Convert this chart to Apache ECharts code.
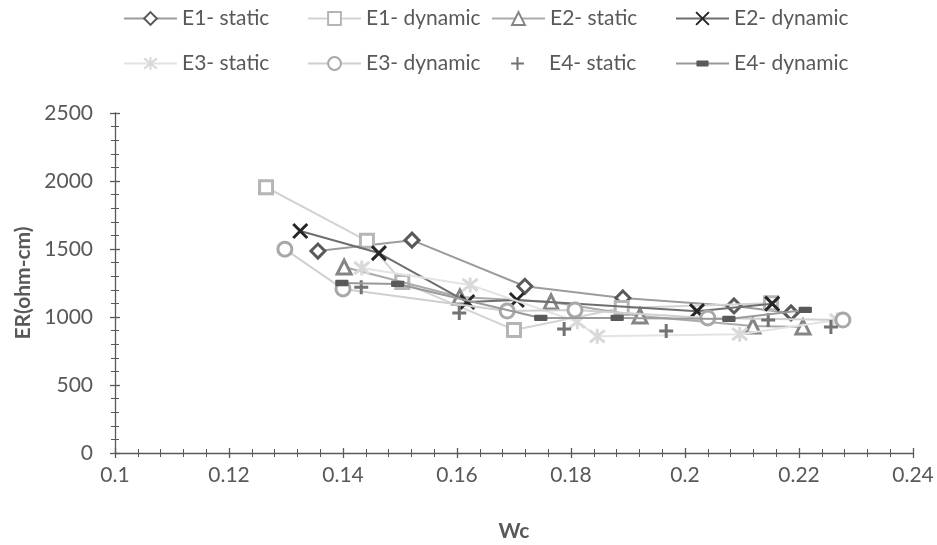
<!DOCTYPE html>
<html>
<head>
<meta charset="utf-8">
<script src="https://cdn.jsdelivr.net/npm/echarts@6/dist/echarts.min.js"></script>
<style>html,body{margin:0;padding:0;background:#fff}#c{width:937px;height:545px}</style>
</head>
<body>
<div id="c"></div>
<script>
// ---- data ----
const seriesNames = ['E1- static','E1- dynamic','E2- static','E2- dynamic','E3- static','E3- dynamic','E4- static','E4- dynamic'];
const e1StaticX  = [0.1356, 0.1521, 0.1719, 0.1891, 0.2086, 0.2186];
const e1StaticY  = [1485, 1565, 1226, 1140, 1081, 1030];
const e1DynamicX = [0.1265, 0.1442, 0.1504, 0.1700, 0.1889, 0.2151];
const e1DynamicY = [1954, 1560, 1257, 905, 1066, 1102];
const e2StaticX  = [0.1402, 0.1605, 0.1765, 0.1921, 0.2119, 0.2207];
const e2StaticY  = [1367, 1147, 1111, 1008, 934, 927];
const e2DynamicX = [0.1325, 0.1463, 0.1618, 0.1705, 0.2021, 0.2153];
const e2DynamicY = [1632, 1470, 1110, 1125, 1043, 1098];
const e3StaticX  = [0.1433, 0.1623, 0.1811, 0.1846, 0.2096, 0.2267];
const e3StaticY  = [1360, 1236, 965, 858, 874, 978];
const e3DynamicX = [0.1298, 0.1400, 0.1688, 0.1807, 0.2040, 0.2277];
const e3DynamicY = [1499, 1206, 1044, 1052, 993, 978];
const e4StaticX  = [0.1432, 0.1604, 0.1788, 0.1967, 0.2146, 0.2256];
const e4StaticY  = [1218, 1030, 912, 897, 978, 927];
const e4DynamicX = [0.1398, 0.1496, 0.1747, 0.1881, 0.2077, 0.2211];
const e4DynamicY = [1250, 1243, 993, 993, 986, 1052];
const xMin = 0.1, xMax = 0.24, xStep = 0.02;
const yMin = 0, yMax = 2500, yStep = 500;

// ---- styles ----
const FONT = 'Lato';
const TXT = '#595959';
const AX = '#595959';
const pathX = 'path://M0,0L10,10M10,0L0,10';
const pathPlus = 'path://M5,0L5,10M0,5L10,5';
const pathStar = 'path://M0,1L10,9M10,1L0,9M5,0L5,10';
const pathDash = 'path://M0,0L0,0M20,20L20,20M2,5.5L18,5.5Q19.5,5.5 19.5,7L19.5,13Q19.5,14.5 18,14.5L2,14.5Q0.5,14.5 0.5,13L0.5,7Q0.5,5.5 2,5.5Z';

const styles = [
  {symbol:'diamond', size:14, item:{color:'#fff', borderColor:'#595959', borderWidth:3}, line:{color:'#9c9c9c', width:2}},
  {symbol:'rect', size:13, item:{color:'#fff', borderColor:'#b5b5b5', borderWidth:3}, line:{color:'#d3d3d3', width:2}},
  {symbol:'triangle', size:14, item:{color:'#fff', borderColor:'#858585', borderWidth:3}, line:{color:'#ababab', width:2}},
  {symbol:pathX, size:14, item:{color:'none', borderColor:'#262626', borderWidth:3}, line:{color:'#6e6e6e', width:2}},
  {symbol:pathStar, size:15, item:{color:'none', borderColor:'#d9d9d9', borderWidth:3}, line:{color:'#e3e3e3', width:2}},
  {symbol:'circle', size:14, item:{color:'#fff', borderColor:'#a8a8a8', borderWidth:3}, line:{color:'#cfcfcf', width:2}},
  {symbol:pathPlus, size:14, item:{color:'none', borderColor:'#737373', borderWidth:3}, line:{color:'#737373', width:0, opacity:0}},
  {symbol:pathDash, size:14, item:{color:'#595959', borderWidth:0}, line:{color:'#9a9a9a', width:2}}
];
const xs = [e1StaticX,e1DynamicX,e2StaticX,e2DynamicX,e3StaticX,e3DynamicX,e4StaticX,e4DynamicX];
const ys = [e1StaticY,e1DynamicY,e2StaticY,e2DynamicY,e3StaticY,e3DynamicY,e4StaticY,e4DynamicY];

const series = seriesNames.map((n,i)=>({
  name:n, type:'line', xAxisIndex:0, yAxisIndex:0,
  data: xs[i].map((x,k)=>[x, ys[i][k]]),
  symbol: styles[i].symbol, symbolSize: styles[i].size,
  itemStyle: styles[i].item, lineStyle: styles[i].line,
  showSymbol:true, animation:false, z: 2 + i*0.01, silent:true
}));
// empty helper series bound to the tick-only twin axes
series.push({type:'scatter', xAxisIndex:1, yAxisIndex:1, data:[], silent:true});

const colLeft = [123, 307, 491, 675];
const rowTop = [8, 53];
const legends = seriesNames.map((n,i)=>({
  data:[n], left: colLeft[i%4], top: rowTop[Math.floor(i/4)], padding:0,
  itemWidth:53, itemHeight:16,
  textStyle:{color:TXT, fontSize:21, fontFamily:FONT},
  selectedMode:false
}));

const GL = 115, GR = 24, GT = 113, GB = 92;
const gridW = 937 - GL - GR, gridH = 545 - GT - GB;

const fmt = v => String(+v.toFixed(4));
const tickStyle = {color:AX, width:1.3};
const minorStyle = {color:AX, width:1};
const option = {
  backgroundColor:'#fff',
  animation:false,
  grid:{left:GL, right:GR, top:GT, bottom:GB, containLabel:false, outerBoundsMode:'none'},
  legend: legends,
  xAxis:[
    {
      type:'value', min:xMin, max:xMax, interval:xStep, splitLine:{show:false}, position:'bottom',
      name:'Wc', nameLocation:'middle', nameGap:68,
      nameTextStyle:{color:TXT, fontSize:21, fontWeight:'bold', fontFamily:FONT},
      axisLine:{show:true, onZero:false, lineStyle:{color:AX, width:1.3}},
      axisTick:{show:true, inside:false, length:5, lineStyle:tickStyle},
      minorTick:{show:true, splitNumber:5, length:4, lineStyle:minorStyle},
      axisLabel:{color:TXT, fontSize:21, fontFamily:FONT, margin:12, formatter:fmt}
    },
    {
      // twin axis moved onto the bottom edge: its outward ticks point up into the plot
      type:'value', min:xMin, max:xMax, interval:xStep, splitLine:{show:false}, position:'top', offset:-gridH,
      axisLine:{show:false, onZero:false},
      axisTick:{show:true, length:5, lineStyle:tickStyle},
      minorTick:{show:true, splitNumber:5, length:4, lineStyle:minorStyle},
      axisLabel:{show:false}
    }
  ],
  yAxis:[
    {
      type:'value', min:yMin, max:yMax, interval:yStep, splitLine:{show:false}, position:'left',
      name:'ER(ohm-cm)', nameLocation:'middle', nameGap:77,
      nameTextStyle:{color:TXT, fontSize:21, fontWeight:'bold', fontFamily:FONT},
      axisLine:{show:true, onZero:false, lineStyle:{color:AX, width:1.3}},
      axisTick:{show:true, inside:false, length:5, lineStyle:tickStyle},
      minorTick:{show:true, splitNumber:5, length:4, lineStyle:minorStyle},
      axisLabel:{color:TXT, fontSize:21, fontFamily:FONT, margin:22, formatter:fmt}
    },
    {
      // twin axis moved onto the left edge: its outward ticks point right into the plot
      type:'value', min:yMin, max:yMax, interval:yStep, splitLine:{show:false}, position:'right', offset:-gridW,
      axisLine:{show:false, onZero:false},
      axisTick:{show:true, length:5, lineStyle:tickStyle},
      minorTick:{show:true, splitNumber:5, length:4, lineStyle:minorStyle},
      axisLabel:{show:false}
    }
  ],
  series: series
};
const chart = echarts.init(document.getElementById('c'), null, {renderer:'canvas'});
chart.setOption(option);
</script>
</body>
</html>
